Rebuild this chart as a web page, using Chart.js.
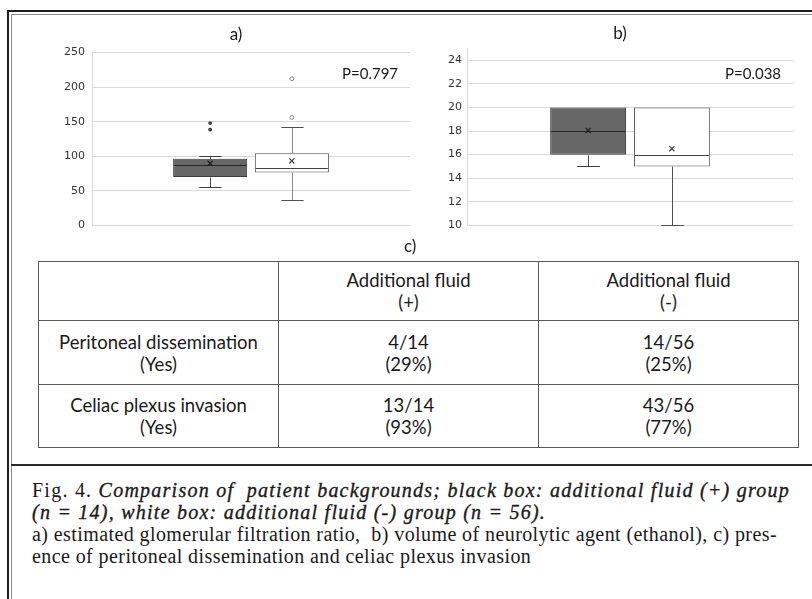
<!DOCTYPE html>
<html>
<head>
<meta charset="utf-8">
<script src="https://cdn.jsdelivr.net/npm/chart.js@4"></script>
<style>
  html, body { margin:0; padding:0; }
  body { width:812px; height:599px; overflow:hidden; background:#fff; position:relative; }
  .abs { position:absolute; }
  #frameOuter { left:7px; top:10px; width:900px; height:700px; border-left:2px solid #1e1e1e; border-top:2px solid #1e1e1e; }
  #frameInner { left:11px; top:14px; width:900px; height:700px; border-left:1px solid #8a8a8a; border-top:1px solid #8a8a8a; }
  #sep { left:11px; top:464px; width:900px; height:0; border-top:2px solid #2a2a2a; }
  .pval { font-family:Lato, sans-serif; font-size:15px; color:#1a1a1a; white-space:nowrap; line-height:1; }
  #clabel { font-family:Lato, sans-serif; font-size:17px; color:#1a1a1a; line-height:1; }
  table { border-collapse:collapse; font-family:Lato, sans-serif; font-size:18.5px; color:#1a1a1a; }
  td { border:1px solid #5a5a5a; text-align:center; vertical-align:middle; line-height:22px; padding:0; }
  .cap { font-family:"Liberation Serif", serif; font-size:20px; color:#1a1a1a; white-space:pre; line-height:1; }
  .cap i { font-weight:normal; -webkit-text-stroke:0.35px #1a1a1a; }
</style>
</head>
<body>
<div id="frameOuter" class="abs"></div>
<div id="frameInner" class="abs"></div>
<canvas id="chartA" class="abs" width="392" height="219" style="left:40px;top:20px;"></canvas>
<canvas id="chartB" class="abs" width="380" height="217" style="left:430px;top:20px;"></canvas>
<div id="pA" class="abs pval" style="left:342px;top:66px;"></div>
<div id="pB" class="abs pval" style="left:725px;top:66px;"></div>
<div id="clabel" class="abs" style="left:404px;top:237px;">c)</div>
<table id="tbl" class="abs" style="left:38px;top:261px;"></table>
<div id="sep" class="abs"></div>
<div id="cap1" class="abs cap" style="left:32px;top:480px;"></div>
<div id="cap2" class="abs cap" style="left:32px;top:502px;"></div>
<div id="cap3" class="abs cap" style="left:32px;top:524px;"></div>
<div id="cap4" class="abs cap" style="left:32px;top:546px;"></div>
<script>
// ---- Data ----
const groups = ['Additional fluid (+)', 'Additional fluid (-)'];

// a) estimated glomerular filtration ratio
const egfrMin = [55, 36.5];
const egfrQ1 = [70, 76.5];
const egfrMedian = [87.5, 83.5];
const egfrQ3 = [96.5, 104.5];
const egfrMax = [100, 142.5];
const egfrMean = [89.8, 93.2];
const egfrOutliers = [[148, 138.5], [156, 212]];
const egfrTicks = [0, 50, 100, 150, 200, 250];

// b) volume of neurolytic agent (ethanol)
const ethMin = [15, 10];
const ethQ1 = [16, 15];
const ethMedian = [18, 16];
const ethQ3 = [20, 20];
const ethMax = [20, 20];
const ethMean = [18.05, 16.5];
const ethOutliers = [[], []];
const ethTicks = [10, 12, 14, 16, 18, 20, 22, 24];
const ethAxisMax = 25;

const chartTitles = ['a)', 'b)'];
const pValues = ['P=0.797', 'P=0.038'];

// c) table
const tableHead = ['', 'Additional fluid\n(+)', 'Additional fluid\n(-)'];
const rowLabels = ['Peritoneal dissemination\n(Yes)', 'Celiac plexus invasion\n(Yes)'];
const countsPlus = ['4/14', '13/14'];
const pctPlus = ['29%', '93%'];
const countsMinus = ['14/56', '43/56'];
const pctMinus = ['25%', '77%'];

// caption
const captionFig = 'Fig. 4. ';
const captionTitle1 = 'Comparison of  patient backgrounds; black box: additional fluid (+) group';
const captionTitle2 = '(n = 14), white box: additional fluid (-) group (n = 56).';
const captionBody1 = 'a) estimated glomerular filtration ratio,  b) volume of neurolytic agent (ethanol), c) pres-';
const captionBody2 = 'ence of peritoneal dissemination and celiac plexus invasion';

// ---- Box extras plugin (whiskers, medians, means, outliers) ----
const boxExtras = {
  id: 'boxExtras',
  afterDatasetsDraw(chart) {
    const ctx = chart.ctx;
    const ys = chart.scales.y;
    chart.data.datasets.forEach((ds, i) => {
      const el = chart.getDatasetMeta(i).data[0];
      if (!el) return;
      const s = ds.stats;
      const cx = Math.round(el.x) + 0.5;
      const half = el.width / 2;
      const capHalf = el.width * 0.15;
      const py = v => Math.round(ys.getPixelForValue(v)) + 0.5;
      ctx.save();
      ctx.lineWidth = 1;
      ctx.strokeStyle = ds.whiskerColor;
      ctx.beginPath();
      if (s.max > s.q3) { ctx.moveTo(cx, py(s.q3)); ctx.lineTo(cx, py(s.max)); }
      if (s.min < s.q1) { ctx.moveTo(cx, py(s.q1)); ctx.lineTo(cx, py(s.min)); }
      ctx.stroke();
      ctx.strokeStyle = ds.capColor;
      ctx.beginPath();
      if (s.max > s.q3) { ctx.moveTo(cx - capHalf, py(s.max)); ctx.lineTo(cx + capHalf, py(s.max)); }
      if (s.min < s.q1) { ctx.moveTo(cx - capHalf, py(s.min)); ctx.lineTo(cx + capHalf, py(s.min)); }
      ctx.stroke();
      ctx.strokeStyle = ds.medianColor;
      ctx.beginPath();
      ctx.moveTo(el.x - half + 1, py(s.median));
      ctx.lineTo(el.x + half - 1, py(s.median));
      ctx.stroke();
      ctx.strokeStyle = ds.meanColor;
      ctx.lineWidth = 1.2;
      const my = ys.getPixelForValue(s.mean);
      if (Chart.helpers && Chart.helpers.drawPoint) {
        Chart.helpers.drawPoint(ctx, { pointStyle: 'crossRot', radius: 3.6, borderWidth: 1.2, rotation: 0 }, el.x, my);
      } else {
        const r = 2.6;
        ctx.beginPath();
        ctx.moveTo(el.x - r, my - r); ctx.lineTo(el.x + r, my + r);
        ctx.moveTo(el.x - r, my + r); ctx.lineTo(el.x + r, my - r);
        ctx.stroke();
      }
      ctx.lineWidth = 1;
      s.outliers.forEach(v => {
        ctx.beginPath();
        ctx.arc(el.x, ys.getPixelForValue(v), 1.9, 0, Math.PI * 2);
        if (ds.outlierFill) { ctx.fillStyle = ds.outlierFill; ctx.fill(); }
        else { ctx.strokeStyle = ds.outlierStroke; ctx.stroke(); }
      });
      ctx.restore();
    });
  }
};

function makeDatasets(mins, q1s, meds, q3s, maxs, means, outs, whiteWhisker) {
  return groups.map((g, i) => {
    const dark = i === 0;
    return {
      label: g,
      yAxisID: 'y',
      data: [[q1s[i], q3s[i]]],
      backgroundColor: dark ? '#676767' : '#ffffff',
      borderColor: dark ? '#3c3c3c' : '#505050',
      borderWidth: 1,
      borderSkipped: false,
      categoryPercentage: 0.514,
      barPercentage: 0.906,
      stats: { min: mins[i], q1: q1s[i], median: meds[i], q3: q3s[i], max: maxs[i], mean: means[i], outliers: outs[i] },
      whiskerColor: dark ? '#4a4a4a' : whiteWhisker,
      capColor: dark ? '#3c3c3c' : '#505050',
      medianColor: dark ? '#262626' : '#404040',
      meanColor: dark ? '#1e1e1e' : '#404040',
      outlierFill: dark ? '#3c3c3c' : null,
      outlierStroke: '#808080'
    };
  });
}

function makeChart(id, title, datasets, yCfg, leftW, rightW, titlePad, padBottom) {
  return new Chart(document.getElementById(id), {
    type: 'bar',
    data: { labels: [''], datasets },
    plugins: [boxExtras],
    options: {
      responsive: false,
      animation: false,
      devicePixelRatio: 1,
      layout: { padding: { top: 0, bottom: padBottom, left: 0, right: 0 } },
      plugins: {
        legend: { display: false },
        tooltip: { enabled: false },
        title: { display: true, text: title, color: '#1a1a1a', font: { family: 'Lato', size: 17, weight: 'normal' }, padding: titlePad }
      },
      scales: {
        x: { display: false },
        y: Object.assign({
          position: 'left',
          grid: { color: '#d9d9d9', drawTicks: false },
          border: { display: true, color: '#d9d9d9' },
          afterFit(s) { s.width = leftW; }
        }, yCfg),
        yR: {
          position: 'right', display: true,
          grid: { display: false }, ticks: { display: false }, border: { display: false },
          afterFit(s) { s.width = rightW; }
        }
      }
    }
  });
}

const tickFont = { family: 'DejaVu Sans', size: 11 };

makeChart('chartA', chartTitles[0],
  makeDatasets(egfrMin, egfrQ1, egfrMedian, egfrQ3, egfrMax, egfrMean, egfrOutliers, '#8c8c8c'),
  { min: egfrTicks[0], max: egfrTicks[egfrTicks.length - 1],
    ticks: { stepSize: egfrTicks[1] - egfrTicks[0], font: tickFont, color: '#333333', padding: 7 },
    afterBuildTicks(s) { s.ticks = egfrTicks.map(v => ({ value: v })); } },
  52, 22, { top: 4.5, bottom: 7.6 }, 6);

makeChart('chartB', chartTitles[1],
  makeDatasets(ethMin, ethQ1, ethMedian, ethQ3, ethMax, ethMean, ethOutliers, '#505050'),
  { min: ethTicks[0], max: ethAxisMax,
    ticks: { stepSize: ethTicks[1] - ethTicks[0], font: tickFont, color: '#333333', padding: 5 },
    afterBuildTicks(s) { s.ticks = ethTicks.map(v => ({ value: v })); } },
  37, 17, { top: 2.9, bottom: 5.2 }, 6.7);

document.getElementById('pA').textContent = pValues[0];
document.getElementById('pB').textContent = pValues[1];

// table
const tbl = document.getElementById('tbl');
const colW = [240, 260, 260];
const rowH = [59, 64, 63];
function cell(tr, text, w) {
  const td = document.createElement('td');
  td.style.width = (w - 1) + 'px';
  text.split('\n').forEach((t, k) => {
    if (k) td.appendChild(document.createElement('br'));
    td.appendChild(document.createTextNode(t));
  });
  tr.appendChild(td);
}
const headRow = document.createElement('tr');
headRow.style.height = rowH[0] + 'px';
tableHead.forEach((t, k) => cell(headRow, t, colW[k]));
tbl.appendChild(headRow);
rowLabels.forEach((lab, r) => {
  const tr = document.createElement('tr');
  tr.style.height = rowH[r + 1] + 'px';
  cell(tr, lab, colW[0]);
  cell(tr, countsPlus[r] + '\n(' + pctPlus[r] + ')', colW[1]);
  cell(tr, countsMinus[r] + '\n(' + pctMinus[r] + ')', colW[2]);
  tbl.appendChild(tr);
});

// caption
const c1 = document.getElementById('cap1');
c1.appendChild(document.createTextNode(captionFig));
const i1 = document.createElement('i'); i1.textContent = captionTitle1; c1.appendChild(i1);
const c2 = document.getElementById('cap2');
const i2 = document.createElement('i'); i2.textContent = captionTitle2; c2.appendChild(i2);
const c3 = document.getElementById('cap3'); c3.textContent = captionBody1;
const c4 = document.getElementById('cap4'); c4.textContent = captionBody2;
function fit(el, partner, target) {
  const w = el.getBoundingClientRect().width;
  const n = el.textContent.length;
  const ls = (target - w) / n;
  el.style.letterSpacing = ls + 'px';
  partner.style.letterSpacing = ls + 'px';
}
fit(c1, c2, 758);
fit(c3, c4, 745);
</script>
</body>
</html>
